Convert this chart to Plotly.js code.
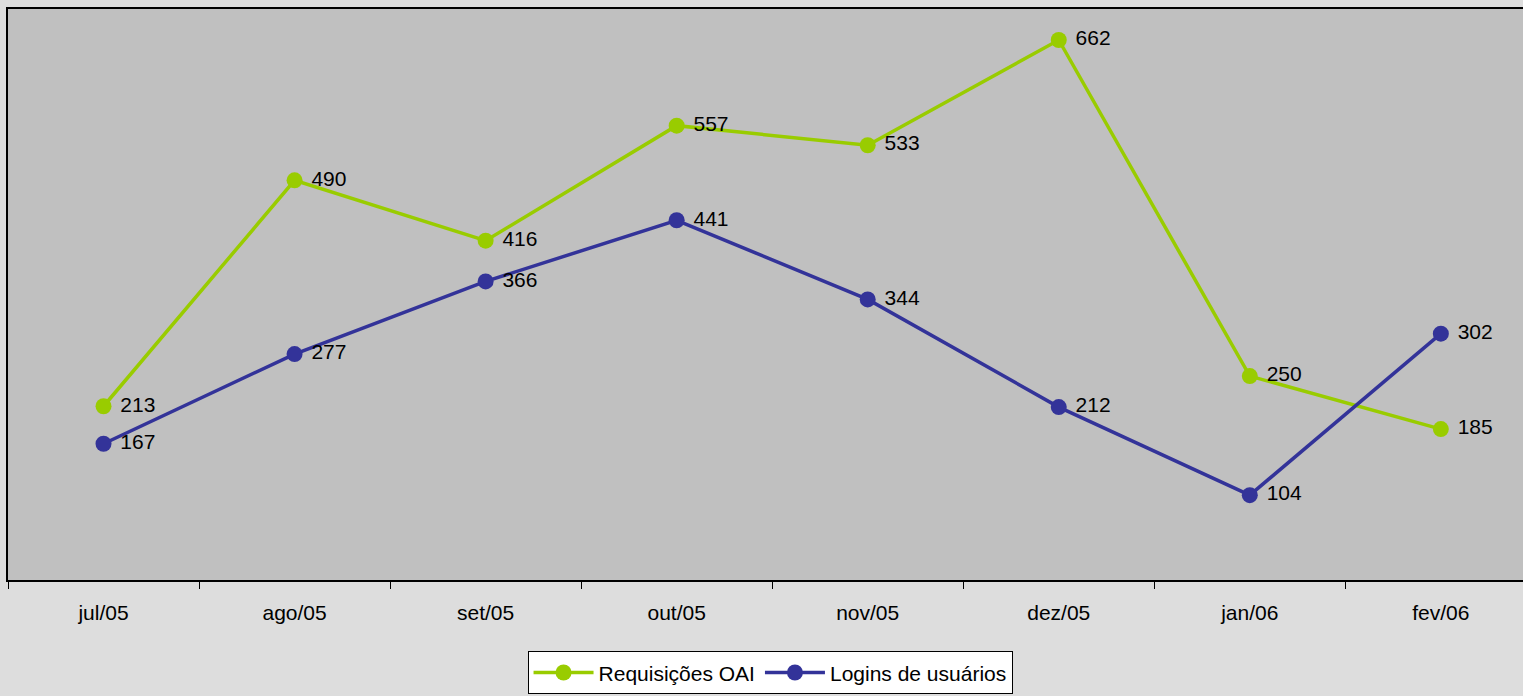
<!DOCTYPE html>
<html>
<head>
<meta charset="utf-8">
<script src="https://cdn.plot.ly/plotly-3.0.1.min.js"></script>
<style>html,body{margin:0;padding:0;background:#dddddd;}#chart{width:1523px;height:696px;}</style>
</head>
<body>
<div id="chart"></div>
<script>
const categories = ["jul/05","ago/05","set/05","out/05","nov/05","dez/05","jan/06","fev/06"];
const requisicoesOAI = [213,490,416,557,533,662,250,185];
const loginsUsuarios = [167,277,366,441,344,212,104,302];
const seriesNames = ["Requisições OAI","Logins de usuários"];

const font = {family:"Liberation Sans, Arial, sans-serif", size:21, color:"#000"};
const lbl = v => "\u00a0" + v;

const traces = [
  {x:categories, y:requisicoesOAI, name:seriesNames[0], type:"scatter", mode:"lines+markers+text",
   line:{color:"#99cc00", width:3.5}, marker:{color:"#99cc00", size:16},
   text:requisicoesOAI.map(lbl), textposition:"middle right", textfont:font, cliponaxis:false},
  {x:categories, y:loginsUsuarios, name:seriesNames[1], type:"scatter", mode:"lines+markers+text",
   line:{color:"#333399", width:3.5}, marker:{color:"#333399", size:16},
   text:loginsUsuarios.map(lbl), textposition:"middle right", textfont:font, cliponaxis:false}
];

const layout = {
  width:1523, height:696,
  margin:{l:8, r:0, t:9, b:116},
  paper_bgcolor:"#dddddd", plot_bgcolor:"#c0c0c0",
  font:font,
  showlegend:true,
  xaxis:{type:"category", range:[-0.5,7.43], tickson:"boundaries", ticks:"outside", ticklen:7,
         tickcolor:"#000", tickwidth:1, showline:true, linecolor:"#000", linewidth:2, mirror:true,
         showgrid:false, zeroline:false, tickfont:font, ticklabelstandoff:13, automargin:false, fixedrange:true},
  yaxis:{range:[0,700], showticklabels:false, ticks:"", showgrid:false, zeroline:false, automargin:false,
         showline:true, linecolor:"#000", linewidth:2, fixedrange:true},
  legend:{orientation:"h", x:0.503, xanchor:"center", y:-0.125, yanchor:"top",
          bgcolor:"#ffffff", bordercolor:"#000", borderwidth:1, font:font, itemwidth:60,
          traceorder:"normal", tracegroupgap:0}
};

Plotly.newPlot("chart", traces, layout, {displayModeBar:false, staticPlot:true});
</script>
</body>
</html>
